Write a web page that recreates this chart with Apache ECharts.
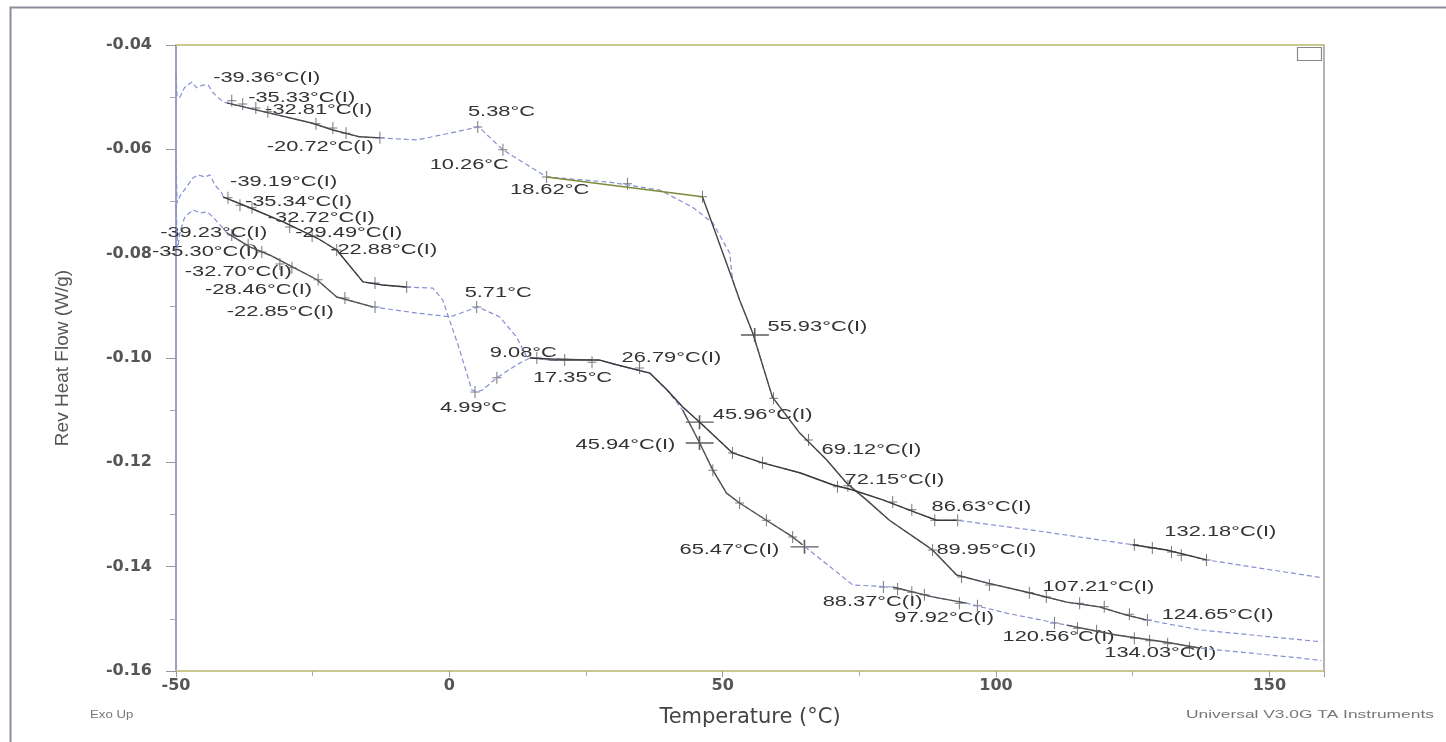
<!DOCTYPE html>
<html><head><meta charset="utf-8">
<script src="https://cdn.jsdelivr.net/npm/echarts@6/dist/echarts.min.js"></script>
<style>html,body{margin:0;padding:0;background:#fff}#c{width:1446px;height:742px}</style>
</head><body><div id="c"></div>
<script>
// ---- axis setup ----
const xMin = -50, xMax = 160, xInterval = 50;
const yMin = -0.16, yMax = -0.04, yInterval = 0.02;

// ---- curves: [Temperature °C, Rev Heat Flow W/g] ----
const curveA = [
  [-50,-0.0458],[-49.8,-0.0500],[-49.3,-0.0500],[-48.4,-0.0481],[-47.1,-0.0471],[-46.2,-0.0482],
  [-45.2,-0.0477],[-44.1,-0.0477],[-43.2,-0.0492],[-41.4,-0.0509],[-40.7,-0.0511],[-31.5,-0.0534],
  [-25.0,-0.0550],[-21.3,-0.0563],[-16.4,-0.0576],[-12.7,-0.0578],[-5.9,-0.0582],[0.1,-0.0569],
  [5.38,-0.0557],[9.8,-0.0601],[17.8,-0.0653],[29.3,-0.0663],[38.5,-0.0678],[44.5,-0.0711],
  [48.2,-0.0741],[51.3,-0.0799],[51.8,-0.0850],[53.1,-0.0889],[55.5,-0.0952],[59.1,-0.1075],
  [64.1,-0.1144],[69.0,-0.1195],[72.7,-0.1240],[76.3,-0.1272],[80.5,-0.1311],[86.6,-0.1355],
  [88.4,-0.1368],[92.8,-0.1416],[98.3,-0.1431],[106.1,-0.1450],[112.9,-0.1468],[118.9,-0.1477],
  [123.9,-0.1493],[127.5,-0.1502],[137.2,-0.1521],[155.5,-0.1540],[159.5,-0.1544]
];
const curveB = [
  [-50,-0.0620],[-49.8,-0.0703],[-49.3,-0.0690],[-46.9,-0.0655],[-46.0,-0.0649],[-44.7,-0.0653],
  [-43.8,-0.0649],[-42.9,-0.0668],[-41.6,-0.0684],[-41.4,-0.0691],[-36.5,-0.0712],[-30.4,-0.0739],
  [-24.2,-0.0770],[-20.6,-0.0793],[-15.8,-0.0854],[-12.2,-0.0860],[-7.8,-0.0864],[-3.0,-0.0866],
  [-1.2,-0.0889],[1.6,-0.0975],[4.1,-0.1061],[5.0,-0.1065],[6.1,-0.1061],[8.7,-0.1038],
  [12.3,-0.1013],[14.7,-0.1000],[18.4,-0.1002],[27.5,-0.1004],[30.6,-0.1013],[36.7,-0.1029],
  [39.8,-0.1061],[42.7,-0.1094],[45.8,-0.1123],[51.8,-0.1182],[57.3,-0.1201],[64.1,-0.1220],
  [70.1,-0.1243],[73.8,-0.1253],[79.3,-0.1272],[85.5,-0.1297],[89.1,-0.1311],[92.8,-0.1311],
  [106.7,-0.1330],[125.0,-0.1358],[131.2,-0.1368],[138.5,-0.1387],[159.5,-0.1421]
];
const curveC = [
  [-50,-0.0705],[-49.7,-0.0790],[-49.2,-0.0755],[-48.4,-0.0730],[-46.9,-0.0716],[-45.6,-0.0722],
  [-44.3,-0.0720],[-43.2,-0.0730],[-41.6,-0.0749],[-40.7,-0.0760],[-36.5,-0.0787],[-32.8,-0.0803],
  [-28.6,-0.0826],[-24.2,-0.0850],[-20.6,-0.0883],[-14.0,-0.0902],[-5.9,-0.0914],[0.2,-0.0921],
  [5.2,-0.0902],[9.2,-0.0921],[12.3,-0.0960],[14.2,-0.0998],[18.4,-0.1004],[27.5,-0.1004],
  [30.6,-0.1013],[36.7,-0.1029],[39.8,-0.1061],[42.7,-0.1100],[45.8,-0.1163],[48.2,-0.1215],
  [50.7,-0.1259],[53.1,-0.1278],[58.0,-0.1311],[62.8,-0.1343],[64.6,-0.1358],[73.8,-0.1435],
  [81.1,-0.1439],[88.4,-0.1458],[94.6,-0.1470],[101.9,-0.1489],[112.9,-0.1512],[122.0,-0.1531],
  [131.2,-0.1545],[137.2,-0.1556],[155.5,-0.1575],[159.5,-0.1580]
];

// temperature ranges drawn as dark solid analysis lines
const darkA = [[-41,-12.6],[51.5,128]];
const darkB = [[-41.5,-7.7],[14.7,93],[125,138.6]];
const darkC = [[-41,-13.9],[18,28],[42.7,65],[80,95],[112,138]];

// straight tangent segments
const tangentsOlive = [[[17.8,-0.0653],[46.3,-0.0691]]];
const tangentsDark = [[[46.3,-0.0691],[51.8,-0.0850]]];

// small "+" markers
const markersA = [[-39.8,-0.0507],[-37.8,-0.0513],[-35.4,-0.0521],[-33.2,-0.0528],[-24.4,-0.0551],
  [-21.3,-0.0559],[-18.9,-0.0569],[-12.7,-0.0578],[5.2,-0.0557],[9.8,-0.0601],[17.8,-0.0653],
  [32.6,-0.0666],[46.3,-0.0691],[59.3,-0.1077],[65.7,-0.1157],[72.9,-0.1245],[88.4,-0.1368],
  [93.7,-0.1420],[98.8,-0.1435],[106.1,-0.1450],[109.2,-0.1458],[115.3,-0.1470],[119.8,-0.1477],
  [124.4,-0.1491],[127.7,-0.1502]];
const markersB = [[-40.5,-0.0693],[-38.3,-0.0707],[-36.1,-0.0712],[-29.2,-0.0749],[-25.1,-0.0766],
  [-20.6,-0.0793],[-13.6,-0.0856],[-7.8,-0.0864],[4.7,-0.1065],[8.7,-0.1038],[16.0,-0.1000],
  [21.1,-0.1004],[26.1,-0.1008],[34.8,-0.1019],[51.8,-0.1182],[57.3,-0.1201],[71.0,-0.1247],
  [81.1,-0.1276],[84.6,-0.1291],[88.8,-0.1311],[93.0,-0.1311],[125.3,-0.1358],[128.6,-0.1364],
  [132.1,-0.1372],[133.9,-0.1378],[138.5,-0.1387]];
const markersC = [[-39.8,-0.0764],[-36.8,-0.0783],[-34.3,-0.0797],[-31.0,-0.0820],[-28.8,-0.0827],
  [-24.0,-0.0850],[-19.1,-0.0885],[-13.6,-0.0902],[5.0,-0.0902],[48.2,-0.1215],[53.1,-0.1278],
  [58.0,-0.1311],[62.8,-0.1343],[79.4,-0.1439],[82.0,-0.1443],[84.6,-0.1449],[86.9,-0.1454],
  [93.3,-0.1470],[96.6,-0.1475],[110.7,-0.1508],[114.9,-0.1518],[118.4,-0.1523],[125.3,-0.1537],
  [128.1,-0.1542],[131.4,-0.1548],[135.4,-0.1556]];
// large crosses (inflection points)
const crosses = [[55.9,-0.0956],[45.8,-0.1123],[45.8,-0.1163],[65.0,-0.1362]];

// annotation texts: [T, W, text] (left-middle anchor)
const annotations = [
  [-43.2,-0.0463,'-39.36°C(I)'],[-36.8,-0.0502,'-35.33°C(I)'],[-33.7,-0.0525,'-32.81°C(I)'],
  [-33.4,-0.0596,'-20.72°C(I)'],[3.4,-0.0528,'5.38°C'],[-3.6,-0.0630,'10.26°C'],[11.1,-0.0678,'18.62°C'],
  [-40.1,-0.0663,'-39.19°C(I)'],[-37.4,-0.0701,'-35.34°C(I)'],[-33.2,-0.0732,'-32.72°C(I)'],
  [-28.2,-0.0760,'-29.49°C(I)'],[-21.8,-0.0793,'-22.88°C(I)'],[-52.9,-0.0760,'-39.23°C(I)'],
  [-54.4,-0.0797,'-35.30°C(I)'],[-48.4,-0.0835,'-32.70°C(I)'],[-44.7,-0.0870,'-28.46°C(I)'],
  [-40.7,-0.0912,'-22.85°C(I)'],[2.8,-0.0875,'5.71°C'],[7.4,-0.0990,'9.08°C'],[-1.7,-0.1096,'4.99°C'],
  [15.3,-0.1038,'17.35°C'],[31.5,-0.1000,'26.79°C(I)'],[58.2,-0.0941,'55.93°C(I)'],
  [48.2,-0.1109,'45.96°C(I)'],[23.1,-0.1167,'45.94°C(I)'],[68.1,-0.1176,'69.12°C(I)'],
  [72.3,-0.1234,'72.15°C(I)'],[88.2,-0.1286,'86.63°C(I)'],[130.8,-0.1333,'132.18°C(I)'],
  [89.1,-0.1368,'89.95°C(I)'],[108.5,-0.1439,'107.21°C(I)'],[130.3,-0.1493,'124.65°C(I)'],
  [42.1,-0.1368,'65.47°C(I)'],[68.3,-0.1468,'88.37°C(I)'],[81.4,-0.1498,'97.92°C(I)'],
  [101.2,-0.1535,'120.56°C(I)'],[119.8,-0.1566,'134.03°C(I)']
];

// ---- build ----
const BLUE = '#8690d2';
function sub(curve, ranges){
  return ranges.map(r => curve.filter(p => p[0] >= r[0] && p[0] <= r[1]));
}
const series = [];
[curveA, curveB, curveC].forEach(c => series.push({
  type:'line', data:c, symbol:'none', silent:true,
  lineStyle:{color:BLUE, width:1.2, type:[5,3]}
}));
[[curveA,darkA,'#4a4a4a'],[curveB,darkB,'#3a3a3a'],[curveC,darkC,'#555']].forEach(([c,r,col]) => {
  sub(c,r).forEach(seg => series.push({
    type:'line', data:seg, symbol:'none', silent:true, lineStyle:{color:col, width:1.4}
  }));
});
tangentsOlive.forEach(s => series.push({type:'line', data:s, symbol:'none', silent:true, lineStyle:{color:'#7d8a3a', width:1.4}}));
tangentsDark.forEach(s => series.push({type:'line', data:s, symbol:'none', silent:true, lineStyle:{color:'#444', width:1.4}}));
series.push({
  type:'scatter', data:[].concat(markersA, markersB, markersC), silent:true,
  symbol:'path://M4,0h1v12h-1zM0,5.5h9v1h-9z', symbolSize:[9,12],
  itemStyle:{color:'#555'}
});
series.push({
  type:'scatter', data:crosses, silent:true,
  symbol:'path://M13,0h1.6v14h-1.6zM0,6.3h28v1.4h-28z', symbolSize:[28,14],
  itemStyle:{color:'#333'}
});
series.push({
  type:'custom', coordinateSystem:'cartesian2d', clip:false, silent:true,
  data:annotations.map(a => [a[0], a[1]]),
  encode:{x:0, y:1},
  renderItem:(params, api) => {
    const p = api.coord([api.value(0), api.value(1)]);
    return {type:'text', x:p[0], y:p[1], scaleX:1.56,
      style:{text:annotations[params.dataIndex][2], font:'14px "Liberation Sans"', fill:'#333', align:'left', verticalAlign:'middle'}};
  }
});

const chart = echarts.init(document.getElementById('c'), null, {renderer:'canvas'});
chart.setOption({
  animation:false,
  backgroundColor:'#fff',
  grid:{left:176, top:45, right:122, bottom:71},
  xAxis:[{
    type:'value', min:xMin, max:xMax, interval:xInterval,
    name:'Temperature (°C)', nameLocation:'middle', nameGap:36,
    nameTextStyle:{fontFamily:'DejaVu Sans', fontSize:21, color:'#444'},
    axisLine:{onZero:false, lineStyle:{color:'#c9c98f', width:2}},
    axisTick:{length:6, lineStyle:{color:'#999'}},
    minorTick:{show:true, splitNumber:2, length:5, lineStyle:{color:'#aaa'}},
    axisLabel:{fontFamily:'DejaVu Sans', fontWeight:'bold', fontSize:16, color:'#555', margin:7,
      formatter:v => (v > 155 ? '' : String(v))},
    splitLine:{show:false}
  },{
    type:'value', position:'top', min:xMin, max:xMax,
    axisLine:{show:true, onZero:false, lineStyle:{color:'#c9c98f', width:2}},
    axisTick:{show:false}, axisLabel:{show:false}, splitLine:{show:false}
  }],
  yAxis:[{
    type:'value', min:yMin, max:yMax, interval:yInterval,
    name:'Rev Heat Flow (W/g)', nameLocation:'middle', nameGap:104, nameRotate:90,
    nameTextStyle:{fontFamily:'Liberation Sans', fontSize:19, color:'#555'},
    axisLine:{show:true, onZero:false, lineStyle:{color:'#9aa0c4', width:2}},
    axisTick:{show:true, length:10, lineStyle:{color:'#999'}},
    minorTick:{show:true, splitNumber:2, length:6, lineStyle:{color:'#aaa'}},
    axisLabel:{fontFamily:'DejaVu Sans', fontWeight:'bold', fontSize:16, color:'#555', margin:24,
      formatter:v => v.toFixed(2)},
    splitLine:{show:false}
  },{
    type:'value', position:'right', min:yMin, max:yMax,
    axisLine:{show:true, onZero:false, lineStyle:{color:'#b4b4b4', width:2}},
    axisTick:{show:false}, axisLabel:{show:false}, splitLine:{show:false}
  }],
  graphic:[
    {type:'rect', left:8, top:5, shape:{width:1460, height:760}, style:{fill:'none', stroke:'#8c8c9c', lineWidth:2}, silent:true},
    {type:'rect', right:122, top:45, shape:{width:24, height:13}, style:{fill:'none', stroke:'#888', lineWidth:1.2}, silent:true},
    {type:'text', left:90, top:709, scaleX:1.2, style:{text:'Exo Up', font:'11px "Liberation Sans"', fill:'#777'}},
    {type:'text', left:1186, top:709, scaleX:1.58, style:{text:'Universal V3.0G TA Instruments', font:'11px "Liberation Sans"', fill:'#777'}}
  ],
  series:series
});
</script></body></html>
